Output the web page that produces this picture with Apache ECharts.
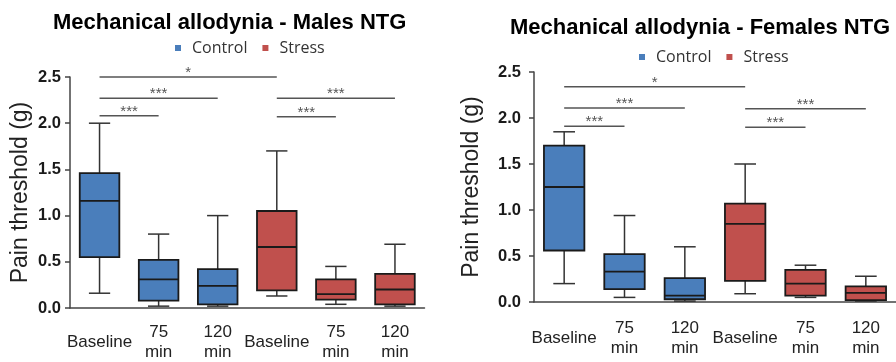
<!DOCTYPE html>
<html>
<head>
<meta charset="utf-8">
<script src="https://cdn.jsdelivr.net/npm/echarts@6/dist/echarts.min.js"></script>
<style>
  html, body { margin: 0; padding: 0; background: #fff; }
  #main { width: 896px; height: 362px; }
</style>
</head>
<body>
<div id="main"></div>
<script>
// categories on both x axes
const categories = ['Baseline', '75\nmin', '120\nmin', 'Baseline', '75\nmin', '120\nmin'];
const yMax = 2.5;
const yStep = 0.5;

// boxes: [min, Q1, median, Q3, max]
const maleControl = [[0.16, 0.55, 1.16, 1.46, 2.00], [0.02, 0.08, 0.31, 0.52, 0.80], [0.02, 0.04, 0.24, 0.42, 1.00]];
const maleStress = [[0.13, 0.19, 0.66, 1.05, 1.70], [0.04, 0.09, 0.15, 0.31, 0.45], [0.02, 0.04, 0.20, 0.37, 0.69]];
const femaleControl = [[0.20, 0.56, 1.25, 1.70, 1.85], [0.05, 0.14, 0.33, 0.52, 0.94], [0.01, 0.03, 0.07, 0.26, 0.60]];
const femaleStress = [[0.09, 0.23, 0.85, 1.07, 1.50], [0.05, 0.07, 0.20, 0.35, 0.40], [0.01, 0.02, 0.10, 0.17, 0.28]];

// significance brackets: [from index, to index, y, label]
const maleSig = [[0, 3, 2.50, '*'], [0, 2, 2.27, '***'], [0, 1, 2.08, '***'], [3, 5, 2.27, '***'], [3, 4, 2.07, '***']];
const femaleSig = [[0, 3, 2.34, '*'], [0, 2, 2.11, '***'], [0, 1, 1.91, '***'], [3, 5, 2.10, '***'], [3, 4, 1.90, '***']];

const blue = '#4a7ebb';
const red = '#c0504d';

function renderBox(params, api) {
  const x = api.value(0);
  const lo = api.coord([x, api.value(1)]);
  const q1 = api.coord([x, api.value(2)]);
  const md = api.coord([x, api.value(3)]);
  const q3 = api.coord([x, api.value(4)]);
  const hi = api.coord([x, api.value(5)]);
  const band = api.size([1, 0])[0];
  const bw = band * 0.67, cw = band * 0.36;
  const cx = lo[0];
  const wStyle = { stroke: '#333', lineWidth: 1.5 };
  return {
    type: 'group',
    children: [
      { type: 'line', shape: { x1: cx, y1: hi[1], x2: cx, y2: q3[1] }, style: wStyle },
      { type: 'line', shape: { x1: cx, y1: q1[1], x2: cx, y2: lo[1] }, style: wStyle },
      { type: 'line', shape: { x1: cx - cw / 2, y1: hi[1], x2: cx + cw / 2, y2: hi[1] }, style: wStyle },
      { type: 'line', shape: { x1: cx - cw / 2, y1: lo[1], x2: cx + cw / 2, y2: lo[1] }, style: wStyle },
      { type: 'rect', shape: { x: cx - bw / 2, y: q3[1], width: bw, height: q1[1] - q3[1] },
        style: { fill: api.visual('color'), stroke: '#1a1a1a', lineWidth: 1.8 } },
      { type: 'line', shape: { x1: cx - bw / 2, y1: md[1], x2: cx + bw / 2, y2: md[1] },
        style: { stroke: '#1a1a1a', lineWidth: 1.8 } }
    ]
  };
}

const sigLabels = {
  sigMale: maleSig.map(s => s[3]),
  sigFemale: femaleSig.map(s => s[3])
};

function renderSig(params, api) {
  const a = api.coord([api.value(0), api.value(2)]);
  const b = api.coord([api.value(1), api.value(2)]);
  const label = sigLabels[params.seriesName][params.dataIndex];
  return {
    type: 'group',
    children: [
      { type: 'line', shape: { x1: a[0], y1: a[1], x2: b[0], y2: b[1] }, style: { stroke: '#555', lineWidth: 1.5 } },
      { type: 'text', x: (a[0] + b[0]) / 2, y: a[1] - 4,
        style: { text: label, fill: '#555', font: '15px "Liberation Sans"', align: 'center', verticalAlign: 'middle' } }
    ]
  };
}

function boxData(rows, offset) {
  return rows.map((b, i) => [i + offset].concat(b));
}

function xAxis(gridIndex, margin) {
  return {
    type: 'category', gridIndex, data: categories,
    axisLine: { lineStyle: { color: '#444', width: 1.5 } },
    axisTick: { alignWithLabel: true, length: 5, lineStyle: { color: '#444', width: 1.5 } },
    axisLabel: { color: '#222', fontSize: 17, fontFamily: 'Liberation Sans', lineHeight: 20,
      verticalAlign: 'middle', margin, interval: 0 }
  };
}

function yAxis(gridIndex, margin, nameGap) {
  return {
    type: 'value', gridIndex, min: 0, max: yMax, interval: yStep,
    name: 'Pain threshold (g)', nameLocation: 'middle', nameGap,
    nameTextStyle: { color: '#222', fontSize: 23, fontFamily: 'Liberation Sans' },
    splitLine: { show: false },
    axisLine: { show: true, lineStyle: { color: '#444', width: 1.5 } },
    axisTick: { show: true, length: 5, lineStyle: { color: '#444', width: 1.5 } },
    axisLabel: { color: '#1a1a1a', fontSize: 16.5, fontWeight: 'bold', fontFamily: 'Liberation Sans', margin,
      formatter: v => v.toFixed(1) }
  };
}

function legend(left, top) {
  return {
    left, top, data: ['Control', 'Stress'],
    icon: 'path://M0,0h10v10h-10z', itemWidth: 18, itemHeight: 6, itemGap: 15,
    textStyle: { color: '#333', fontSize: 16, fontFamily: 'Open Sans' }
  };
}

const titleStyle = { color: '#000', fontSize: 22, fontWeight: 'bold', fontFamily: 'Liberation Sans' };

const chart = echarts.init(document.getElementById('main'), null, { renderer: 'canvas' });
chart.setOption({
  animation: false,
  title: [
    { text: 'Mechanical allodynia - Males NTG', left: 48, top: 7, textStyle: titleStyle },
    { text: 'Mechanical allodynia - Females NTG', left: 505, top: 12, textStyle: titleStyle }
  ],
  legend: [legend(170, 35), legend(634, 44)],
  grid: [
    { left: 70, right: 471.5, top: 77, bottom: 50 },
    { left: 534, right: -6, top: 72, bottom: 60 }
  ],
  xAxis: [xAxis(0, 34), xAxis(1, 36)],
  yAxis: [yAxis(0, 9, 38), yAxis(1, 13, 51)],
  series: [
    { type: 'custom', name: 'Control', xAxisIndex: 0, yAxisIndex: 0, itemStyle: { color: blue },
      renderItem: renderBox, encode: { x: 0, y: [1, 2, 3, 4, 5] }, data: boxData(maleControl, 0) },
    { type: 'custom', name: 'Stress', xAxisIndex: 0, yAxisIndex: 0, itemStyle: { color: red },
      renderItem: renderBox, encode: { x: 0, y: [1, 2, 3, 4, 5] }, data: boxData(maleStress, 3) },
    { type: 'custom', name: 'Control', xAxisIndex: 1, yAxisIndex: 1, itemStyle: { color: blue },
      renderItem: renderBox, encode: { x: 0, y: [1, 2, 3, 4, 5] }, data: boxData(femaleControl, 0) },
    { type: 'custom', name: 'Stress', xAxisIndex: 1, yAxisIndex: 1, itemStyle: { color: red },
      renderItem: renderBox, encode: { x: 0, y: [1, 2, 3, 4, 5] }, data: boxData(femaleStress, 3) },
    { type: 'custom', name: 'sigMale', xAxisIndex: 0, yAxisIndex: 0, renderItem: renderSig,
      encode: { x: [0, 1], y: 2 }, data: maleSig.map(s => s.slice(0, 3)) },
    { type: 'custom', name: 'sigFemale', xAxisIndex: 1, yAxisIndex: 1, renderItem: renderSig,
      encode: { x: [0, 1], y: 2 }, data: femaleSig.map(s => s.slice(0, 3)) }
  ]
});
</script>
</body>
</html>
